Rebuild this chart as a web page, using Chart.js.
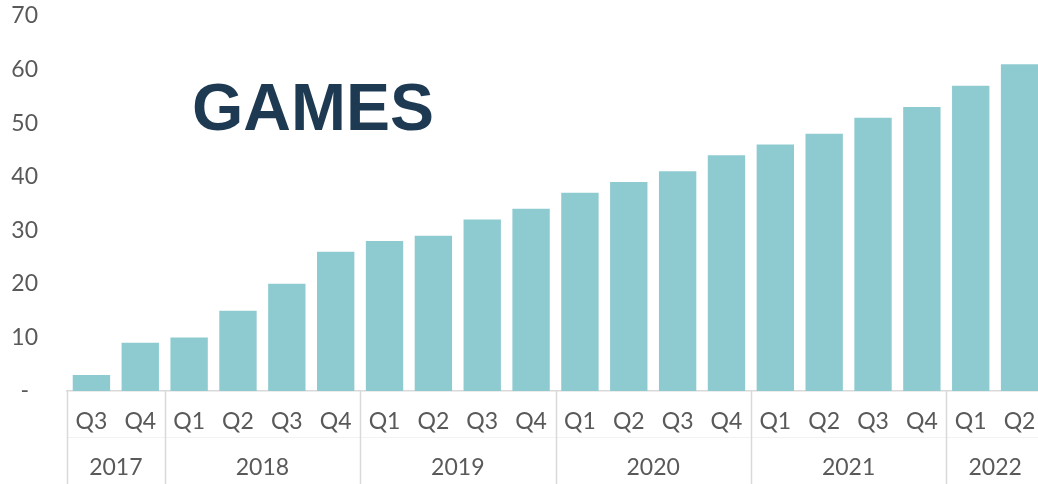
<!DOCTYPE html>
<html>
<head>
<meta charset="utf-8">
<script src="https://cdn.jsdelivr.net/npm/chart.js@4.4.1/dist/chart.umd.min.js"></script>
<style>
  html, body { margin: 0; padding: 0; background: #fff; overflow: hidden; }
  .wrap { position: relative; width: 1038px; height: 484px; overflow: hidden; }
  canvas { position: absolute; left: 0; top: 0; }
  .title {
    position: absolute; left: 192px; top: 74px;
    font-family: 'Liberation Sans', Arial, sans-serif; font-weight: bold;
    font-size: 66px; line-height: 1; color: #1d3a52; white-space: nowrap;
  }
</style>
</head>
<body>
<div class="wrap">
  <canvas id="chart" width="1044" height="484"></canvas>
  <div class="title">GAMES</div>
</div>
<script>
// ── DATA ──────────────────────────────────────────────────────────────────────

const QUARTERS = ['Q3','Q4','Q1','Q2','Q3','Q4','Q1','Q2','Q3','Q4','Q1','Q2','Q3','Q4','Q1','Q2','Q3','Q4','Q1','Q2'];
const GAMES    = [3, 9, 10, 15, 20, 26, 28, 29, 32, 34, 37, 39, 41, 44, 46, 48, 51, 53, 57, 61];
const YEARS      = ['2017', '2018', '2019', '2020', '2021', '2022'];
const YEAR_SPANS = [2, 4, 4, 4, 4, 2];   // quarters per year
const Y_TICKS    = [0, 10, 20, 30, 40, 50, 60, 70];

const GREY_TEXT = '#595959';
const LINE = '#d9d9d9';
const FONT_SIZE = 23;

// ── YEAR ROW PLUGIN ───────────────────────────────────────────────────────────

const yearRow = {
  id: 'yearRow',
  afterDraw(chart) {
    const { ctx, scales: { x }, chartArea } = chart;
    const half = (x.getPixelForValue(1) - x.getPixelForValue(0)) / 2;
    const top = chartArea.bottom;
    const bottom = chart.height;
    ctx.save();
    // faint separator between quarter and year rows
    ctx.strokeStyle = '#f2f2f2';
    ctx.lineWidth = 1;
    ctx.beginPath();
    ctx.moveTo(chartArea.left, 437.5);
    ctx.lineTo(chartArea.right, 437.5);
    ctx.stroke();

    ctx.strokeStyle = LINE;
    ctx.lineWidth = 1.5;
    ctx.font = FONT_SIZE + 'px Lato';
    ctx.fillStyle = GREY_TEXT;
    ctx.textAlign = 'center';
    ctx.textBaseline = 'middle';
    let start = 0;
    YEARS.forEach((yr, i) => {
      const end = start + YEAR_SPANS[i] - 1;
      const left = x.getPixelForValue(start) - half;
      const right = x.getPixelForValue(end) + half;
      ctx.beginPath();
      ctx.moveTo(Math.round(left) + 0.5, top);
      ctx.lineTo(Math.round(left) + 0.5, bottom);
      ctx.stroke();
      ctx.fillText(yr, (left + right) / 2, 468);
      start = end + 1;
    });
    ctx.restore();
  }
};

// ── CHART ─────────────────────────────────────────────────────────────────────

new Chart(document.getElementById('chart').getContext('2d'), {
  type: 'bar',
  data: {
    labels: QUARTERS,
    datasets: [{
      label: 'Games',
      data: GAMES,
      backgroundColor: '#8ecbd0',
      barPercentage: 0.765,
      categoryPercentage: 1,
    }],
  },
  options: {
    responsive: false,
    animation: false,
    layout: { padding: { top: 16, right: 0, bottom: 0, left: 0 } },
    plugins: { legend: { display: false }, tooltip: { enabled: false } },
    scales: {
      x: {
        grid: { display: false, drawTicks: false },
        border: { display: true, color: LINE, width: 1.5 },
        ticks: { color: GREY_TEXT, font: { family: 'Lato', size: FONT_SIZE }, padding: 17, maxRotation: 0, autoSkip: false },
        afterFit(scale) {
          scale.height = 93;
          scale.paddingLeft = 0;
          scale.paddingRight = 0;
        },
      },
      y: {
        min: 0, max: 70,
        afterBuildTicks(scale) { scale.ticks = Y_TICKS.map(v => ({ value: v })); },
        grid: { display: false, drawTicks: false },
        border: { display: false },
        ticks: {
          color: GREY_TEXT, font: { family: 'Lato', size: FONT_SIZE }, padding: 29, crossAlign: 'center',
          callback: v => v === 0 ? '-' : v,
        },
        afterFit(scale) {
          scale.width = 67;
          scale.paddingTop = 0;
          scale.paddingBottom = 0;
        },
      },
    },
  },
  plugins: [yearRow],
});
</script>
</body>
</html>
